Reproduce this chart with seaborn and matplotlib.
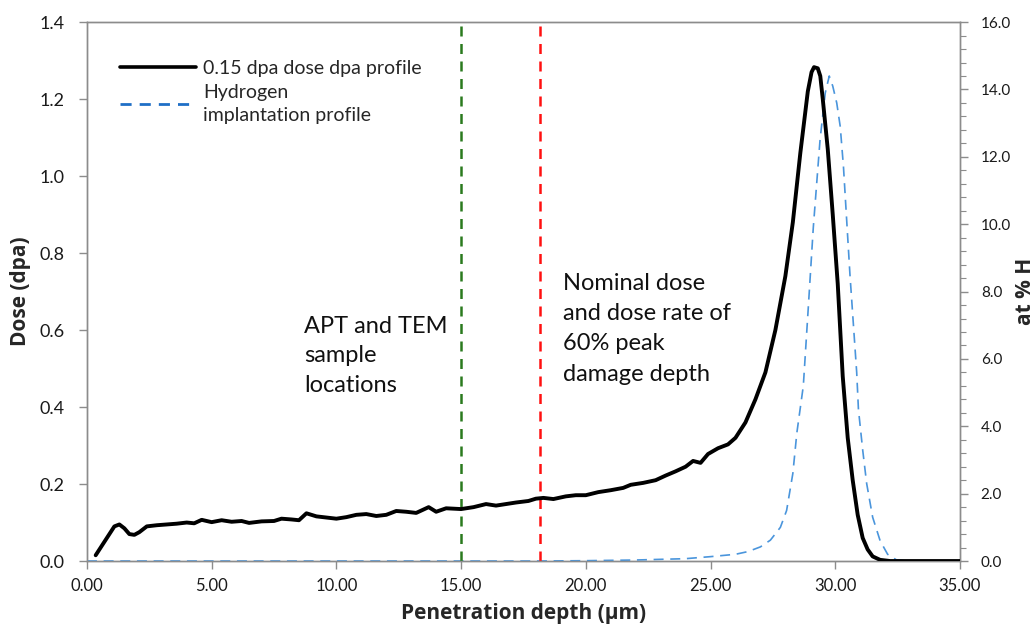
import matplotlib
matplotlib.use("Agg")
import matplotlib.pyplot as plt
from matplotlib.ticker import MultipleLocator, FormatStrFormatter
from matplotlib.lines import Line2D
import seaborn as sns
import pandas as pd

# Damage (dpa) profile for the 0.15 dpa dose
dose_depth = [0.35, 0.6, 0.9, 1.1, 1.3, 1.5, 1.7, 1.9, 2.1, 2.4, 2.8, 3.2, 3.6, 4.0,
              4.3, 4.6, 5.0, 5.4, 5.8, 6.2, 6.5, 7.0, 7.5, 7.8, 8.2, 8.5, 8.8, 9.2,
              9.6, 10.0, 10.4, 10.8, 11.2, 11.6, 12.0, 12.4, 12.8, 13.2, 13.7, 14.0,
              14.4, 15.0, 15.5, 16.0, 16.4, 16.8, 17.2, 17.7, 18.0, 18.3, 18.7, 19.2,
              19.6, 20.0, 20.5, 21.0, 21.5, 21.8, 22.3, 22.8, 23.2, 23.6, 24.0, 24.3,
              24.6, 24.9, 25.3, 25.7, 26.0, 26.4, 26.8, 27.2, 27.6, 28.0, 28.3, 28.6,
              28.9, 29.05, 29.15, 29.3, 29.4, 29.5, 29.7, 29.9, 30.1, 30.3, 30.5,
              30.7, 30.9, 31.1, 31.3, 31.5, 31.8, 32.2, 33.0, 34.0, 35.0]
dose_dpa = [0.015, 0.04, 0.07, 0.09, 0.095, 0.085, 0.07, 0.068, 0.075, 0.09, 0.093,
            0.095, 0.097, 0.1, 0.098, 0.107, 0.101, 0.106, 0.102, 0.104, 0.099, 0.103,
            0.104, 0.11, 0.108, 0.106, 0.124, 0.116, 0.113, 0.11, 0.114, 0.12, 0.122,
            0.117, 0.12, 0.13, 0.128, 0.125, 0.14, 0.128, 0.137, 0.135, 0.14, 0.148,
            0.144, 0.148, 0.152, 0.156, 0.162, 0.164, 0.161, 0.168, 0.171, 0.171,
            0.179, 0.184, 0.19, 0.198, 0.203, 0.21, 0.222, 0.233, 0.245, 0.26, 0.255,
            0.278, 0.293, 0.303, 0.32, 0.36, 0.42, 0.49, 0.6, 0.74, 0.88, 1.06, 1.22,
            1.27, 1.283, 1.28, 1.26, 1.2, 1.07, 0.9, 0.72, 0.48, 0.32, 0.21, 0.12,
            0.06, 0.03, 0.012, 0.003, 0.0, 0.0, 0.0, 0.0]

# Hydrogen implantation profile (at.% H)
h_depth = [0.0, 5.0, 10.0, 15.0, 18.0, 20.0, 22.0, 24.0, 25.0, 26.0, 26.5, 27.0,
           27.4, 27.8, 28.05, 28.3, 28.46, 28.72, 28.9, 29.12, 29.39, 29.6, 29.76,
           29.9, 30.06, 30.2, 30.33, 30.59, 30.86, 30.93, 31.1, 31.26, 31.5, 31.8,
           32.1, 32.46, 33.0, 34.0, 35.0]
h_at_pct = [0.0, 0.0, 0.0, 0.0, 0.0, 0.01, 0.03, 0.07, 0.13, 0.2, 0.28, 0.42, 0.62,
            1.0, 1.5, 2.6, 3.8, 5.2, 7.3, 9.9, 12.5, 13.9, 14.4, 14.1, 13.6, 12.9,
            11.7, 8.5, 5.6, 4.5, 3.3, 2.3, 1.3, 0.6, 0.2, 0.03, 0.0, 0.0, 0.0]

# Marker depths (µm)
sample_depth = 15.0
nominal_depth = 18.15

dose_label = "0.15 dpa dose dpa profile"
h_label = "Hydrogen\nimplantation profile"
sample_text = "APT and TEM\nsample\nlocations"
nominal_text = "Nominal dose\nand dose rate of\n60% peak\ndamage depth"

sns.set_theme(style="white")
plt.rcParams["font.family"] = ["Lato", "DejaVu Sans"]

dose_df = pd.DataFrame({"depth": dose_depth, "dose": dose_dpa})
h_df = pd.DataFrame({"depth": h_depth, "h": h_at_pct})

fig = plt.figure(figsize=(10.35, 6.32), dpi=100)
ax = fig.add_axes([0.084, 0.1123, 0.8435, 0.8527])
ax2 = ax.twinx()

blue = "#4a95dc"
sns.lineplot(data=h_df, x="depth", y="h", ax=ax2, color=blue, linewidth=1.2,
             linestyle=(0, (6, 4)), zorder=3)
sns.lineplot(data=dose_df, x="depth", y="dose", ax=ax, color="black", linewidth=2.8,
             zorder=4)
ax.set_zorder(ax2.get_zorder() + 1)
ax.patch.set_visible(False)

ax.axvline(sample_depth, color="#2a7a1e", linestyle=(0, (4, 3)), linewidth=1.8, zorder=2)
ax.axvline(nominal_depth, color="#ff1010", linestyle=(0, (4, 3)), linewidth=1.8, zorder=2)

ax.set_xlim(0, 35)
ax.set_ylim(0, 1.4)
ax2.set_ylim(0, 16)
ax.xaxis.set_major_locator(MultipleLocator(5))
ax.xaxis.set_major_formatter(FormatStrFormatter("%.2f"))
ax.yaxis.set_major_locator(MultipleLocator(0.2))
ax.yaxis.set_major_formatter(FormatStrFormatter("%.1f"))
ax2.yaxis.set_major_locator(MultipleLocator(2))
ax2.yaxis.set_minor_locator(MultipleLocator(0.4))
ax2.yaxis.set_major_formatter(FormatStrFormatter("%.1f"))

grey = "#8c8c8c"
for a in (ax, ax2):
    for s in a.spines.values():
        s.set_color(grey)
        s.set_linewidth(1.0)
ax.tick_params(axis="x", which="major", direction="out", length=6, width=1,
               color=grey, labelsize=12, labelcolor="#1a1a1a", pad=6, bottom=True)
ax.tick_params(axis="y", which="major", direction="out", length=6, width=1,
               color=grey, labelsize=13, labelcolor="#1a1a1a", pad=10, left=True)
ax2.tick_params(axis="y", which="major", direction="out", length=6, width=1,
                color=grey, labelsize=11, labelcolor="#1a1a1a", pad=9, right=True)
ax2.tick_params(axis="y", which="minor", direction="out", length=4, width=0.8,
                color=grey, right=True)
ax.grid(False)
ax2.grid(False)

label_font = ["Open Sans", "DejaVu Sans"]
ax.set_xlabel("Penetration depth (µm)", fontsize=15, fontweight="bold", labelpad=7,
              family=label_font)
ax.set_ylabel("Dose (dpa)", fontsize=15, fontweight="bold", labelpad=6,
              family=label_font)
ax2.set_ylabel("at % H", fontsize=15, fontweight="bold", labelpad=3, rotation=90,
               family=label_font)

ax.text(0.249, 0.455, sample_text, transform=ax.transAxes, fontsize=17,
        ha="left", va="top", linespacing=1.5, color="#111111")
ax.text(0.545, 0.535, nominal_text, transform=ax.transAxes, fontsize=17,
        ha="left", va="top", linespacing=1.55, color="#111111")

handles = [Line2D([], [], color="black", linewidth=2.6),
           Line2D([], [], color="#1f6fc6", linewidth=2.0, linestyle=(0, (4, 2.9)))]
leg = ax.legend(handles, [dose_label, h_label], loc="upper left",
                bbox_to_anchor=(0.018, 0.962), frameon=False, fontsize=14,
                handlelength=3.9, handletextpad=0.35, labelspacing=0.35)
for t in leg.get_texts():
    t.set_linespacing(1.45)

fig.savefig("out.png", dpi=100)
